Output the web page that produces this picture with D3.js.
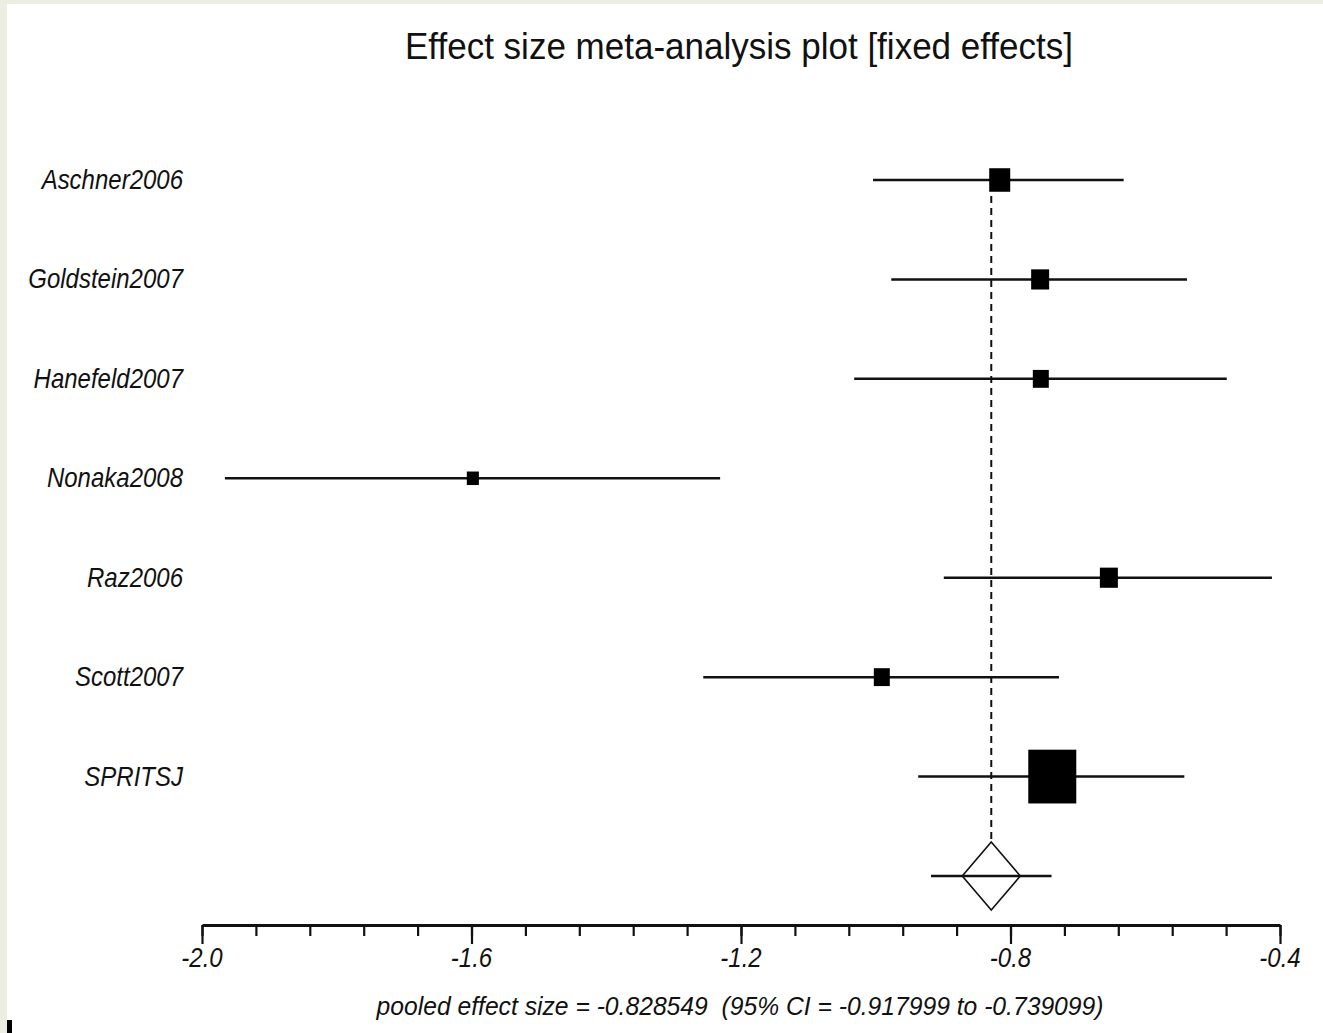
<!DOCTYPE html>
<html>
<head>
<meta charset="utf-8">
<script src="https://cdn.jsdelivr.net/npm/d3@7"></script>
<style>
  html, body { margin: 0; padding: 0; background: #ebeee0; }
  svg text { font-family: "Liberation Sans", Arial, sans-serif; fill: #111; white-space: pre; }
</style>
</head>
<body>
<svg id="forest" width="1323" height="1033"></svg>
<script>
/* chart data */
var studies = ["Aschner2006", "Goldstein2007", "Hanefeld2007", "Nonaka2008", "Raz2006", "Scott2007", "SPRITSJ"];
var estimates = [-0.816, -0.756, -0.755, -1.598, -0.654, -0.991, -0.738];
var lowerCI = [-1.004, -0.977, -1.032, -1.966, -0.899, -1.256, -0.937];
var upperCI = [-0.632, -0.538, -0.479, -1.231, -0.412, -0.728, -0.542];
var weights = [10.9, 8.0, 6.3, 3.6, 8.0, 6.3, 56.9];

var pooled = -0.828549;
var pooledLower = -0.917999;
var pooledUpper = -0.739099;

var majorTicks = [-2.0, -1.6, -1.2, -0.8, -0.4];
var minorTicks = d3.range(0, 21).map(function (i) { return -2.0 + i * 0.08; });

var title = "Effect size meta-analysis plot [fixed effects]";
var footer = "pooled effect size = -0.828549  (95% CI = -0.917999 to -0.739099)";

const svg = d3.select("#forest");
const stretch = 1.12;   // the source glyphs are a bit taller than wide

/* background: greenish frame and white panel */
svg.append("rect").attr("width", 1323).attr("height", 1033).attr("fill", "#ebeee0");
svg.append("rect").attr("x", 7).attr("y", 4).attr("width", 1316).attr("height", 1029).attr("fill", "#fff");
svg.append("rect").attr("x", 7).attr("y", 1020).attr("width", 5).attr("height", 13).attr("fill", "#000");

/* scales */
const x = d3.scaleLinear().domain([-2.0, -0.4]).range([202, 1280]);
const y = d3.scalePoint().domain(studies.concat(["pooled"])).range([180, 876]);
const side = d3.scaleSqrt().domain([0, d3.max(weights)]).range([0, 48]);

const rows = studies.map(function (s, i) {
    return {name: s, est: estimates[i], lo: lowerCI[i], hi: upperCI[i], w: weights[i]};
});

function stretchedText(sel, px, py) {
    return sel.attr("transform", "translate(" + px + "," + py + ") scale(1," + stretch + ")");
}

/* title */
stretchedText(svg.append("text"), 739, 59)
    .attr("text-anchor", "middle")
    .attr("font-size", 33)
    .attr("textLength", 668)
    .attr("lengthAdjust", "spacingAndGlyphs")
    .text(title);

/* axis: minor ticks then major ticks with labels */
const axisY = 925;
svg.append("g")
    .attr("transform", "translate(0," + axisY + ")")
    .call(d3.axisBottom(x).tickValues(minorTicks).tickSize(11).tickSizeOuter(0).tickFormat(""))
    .call(function (g) {
        g.selectAll("line").attr("stroke", "#111").attr("stroke-width", 2.2);
        g.select(".domain").attr("stroke", "#111").attr("stroke-width", 2.8);
    });

const major = svg.append("g")
    .attr("transform", "translate(0," + axisY + ")")
    .call(d3.axisBottom(x).tickValues(majorTicks).tickSize(19).tickSizeOuter(0));
major.select(".domain").remove();
major.selectAll("line").attr("stroke", "#111").attr("stroke-width", 2.2);
major.selectAll("text").remove();
majorTicks.forEach(function (t) {
    stretchedText(svg.append("text"), x(t), 967)
        .attr("text-anchor", "middle")
        .attr("font-size", 24)
        .attr("font-style", "italic")
        .text(t.toFixed(1));
});

/* dashed pooled line */
svg.append("line")
    .attr("x1", x(pooled)).attr("x2", x(pooled))
    .attr("y1", y(studies[0]) + 4).attr("y2", y("pooled") - 36)
    .attr("stroke", "#111")
    .attr("stroke-width", 2)
    .attr("stroke-dasharray", "7,5");

/* study rows */
const rowGroups = svg.selectAll(".row")
    .data(rows)
    .enter()
    .append("g")
    .attr("class", "row");

rowGroups.append("line")
    .attr("x1", (d) => x(d.lo))
    .attr("x2", (d) => x(d.hi))
    .attr("y1", (d) => y(d.name))
    .attr("y2", (d) => y(d.name))
    .attr("stroke", "#111")
    .attr("stroke-width", 2.5);

rowGroups.append("rect")
    .attr("x", (d) => x(d.est) - side(d.w) / 2)
    .attr("y", (d) => y(d.name) - side(d.w) * stretch / 2)
    .attr("width", (d) => side(d.w))
    .attr("height", (d) => side(d.w) * stretch)
    .attr("fill", "#000");

rowGroups.each(function (d) {
    stretchedText(d3.select(this).append("text"), 183, y(d.name) + 9)
        .attr("text-anchor", "end")
        .attr("font-size", 24)
        .attr("font-style", "italic")
        .text(d.name);
});

/* pooled estimate: CI line and diamond */
const py = y("pooled");
svg.append("line")
    .attr("x1", x(pooledLower)).attr("x2", x(pooledUpper))
    .attr("y1", py).attr("y2", py)
    .attr("stroke", "#111")
    .attr("stroke-width", 2.5);

const dx = 29, dy = 34;
svg.append("path")
    .attr("d", "M" + x(pooled) + "," + (py - dy) +
               "L" + (x(pooled) + dx) + "," + py +
               "L" + x(pooled) + "," + (py + dy) +
               "L" + (x(pooled) - dx) + "," + py + "Z")
    .attr("fill", "none")
    .attr("stroke", "#111")
    .attr("stroke-width", 1.6);

/* footer */
stretchedText(svg.append("text"), 740, 1015)
    .attr("text-anchor", "middle")
    .attr("font-size", 23)
    .attr("font-style", "italic")
    .attr("textLength", 727)
    .attr("lengthAdjust", "spacingAndGlyphs")
    .text(footer);
</script>
</body>
</html>
